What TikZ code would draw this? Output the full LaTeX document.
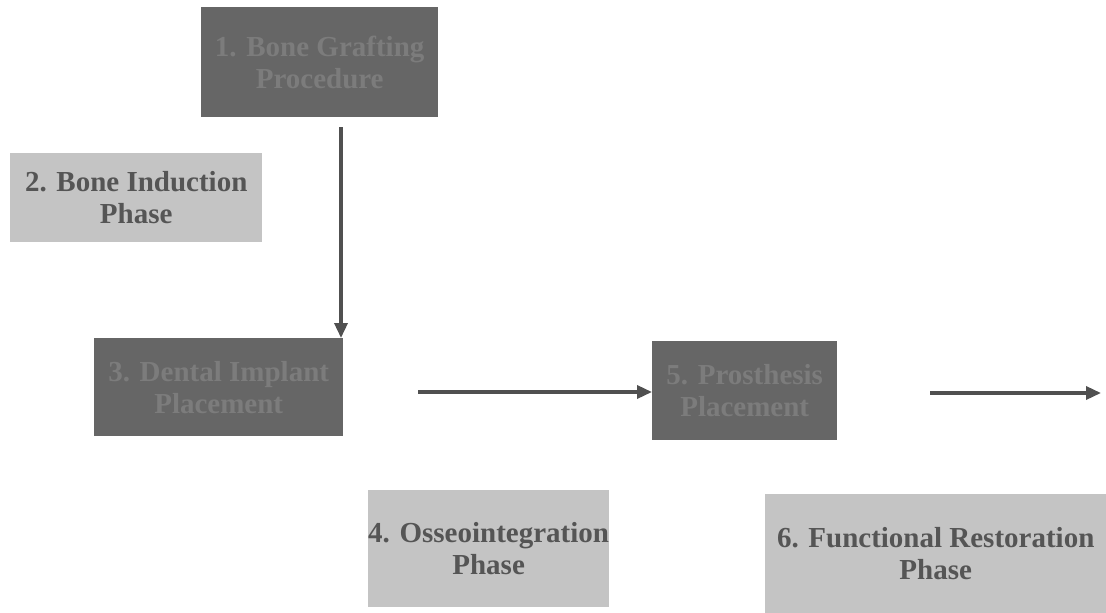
\documentclass[tikz,border=0pt]{standalone}
\usepackage{fontspec}
\setmainfont{Liberation Serif}
\usetikzlibrary{arrows.meta}
\definecolor{darkbox}{HTML}{666666}
\definecolor{darktext}{HTML}{7C7C7C}
\definecolor{lightbox}{HTML}{C4C4C4}
\definecolor{lighttext}{HTML}{555555}
\definecolor{arrowcol}{HTML}{505050}
\tikzset{
  boxtext/.style={font=\bfseries\fontsize{29}{32}\selectfont, align=center, inner sep=0pt, anchor=north west},
  darkstep/.style={boxtext, fill=darkbox, text=darktext},
  lightstep/.style={boxtext, fill=lightbox, text=lighttext},
  flow/.style={draw=arrowcol, line width=3.4pt, -{Triangle[length=15pt,width=13pt]}}
}
\begin{document}
\begin{tikzpicture}[x=1pt,y=-1pt]
\useasboundingbox (0,0) rectangle (1106,613);
\node[darkstep, minimum width=237pt, minimum height=110pt] (b1) at (201,7) {1. Bone Grafting\\Procedure};
\node[lightstep, minimum width=252pt, minimum height=89pt] (b2) at (10,153) {2. Bone Induction\\Phase};
\node[darkstep, minimum width=249pt, minimum height=98pt] (b3) at (94,338) {3. Dental Implant\\Placement};
\node[lightstep, minimum width=239pt, minimum height=117pt] (b4) at (368,490) {4. Osseointegration\\Phase};
\node[darkstep, minimum width=185pt, minimum height=99pt] (b5) at (652,341) {5. Prosthesis\\Placement};
\node[lightstep, minimum width=341pt, minimum height=119pt] (b6) at (765,494) {6. Functional Restoration\\Phase};
\coordinate (s1) at (341,127);
\coordinate (s2) at (418,392);
\coordinate (s3) at (930,393);
\coordinate (e3) at (1101,393);
\draw[flow] (s1) -- (s1 |- b3.north);
\draw[flow] (s2) -- (s2 -| b5.west);
\draw[flow] (s3) -- (e3);
\end{tikzpicture}
\end{document}
